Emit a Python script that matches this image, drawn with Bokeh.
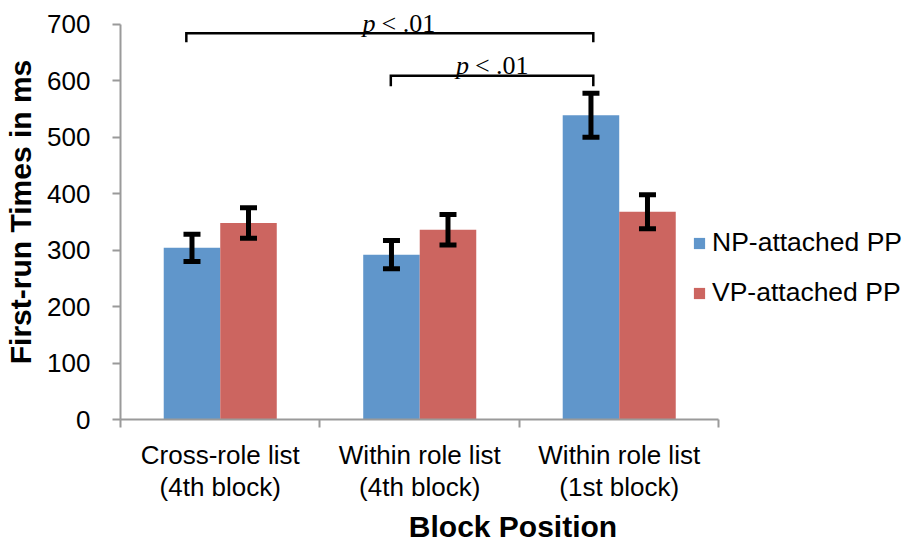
from bokeh.plotting import figure
from bokeh.models import (ColumnDataSource, Range1d, FixedTicker, Whisker, TeeHead)
from bokeh.core.properties import value
from bokeh.embed import file_html
from bokeh.resources import INLINE

# ---------------- data ----------------
categories = ["Cross-role list\n(4th block)", "Within role list\n(4th block)", "Within role list\n(1st block)"]
series_names = ["NP-attached PP", "VP-attached PP"]
np_means = [304, 292, 539]
np_errors = [24, 25, 39]
vp_means = [348, 336, 368]
vp_errors = [27, 27, 30]
y_ticks = [0, 100, 200, 300, 400, 500, 600, 700]

# significance brackets (x in category units, y in ms)
bracket_left = [0.33, 1.355]
bracket_right = [2.37, 2.37]
bracket_top = [684, 609]
bracket_foot = [668, 590]
sig_text_x = [1.394, 1.862]
sig_text_y = [702, 627]
sig_p = ["p", "p"]
sig_rest = ["< .01", "< .01"]

# ---------------- styling ----------------
BLUE = "#6096CB"
RED = "#CC6560"
AXIS_GRAY = "#9A9A9A"
SANS = "Liberation Sans"
SERIF = "Liberation Serif"
bar_w = 0.2833
half = bar_w / 2

p = figure(width=905, height=545, output_backend="svg", toolbar_location=None,
           x_range=Range1d(0, 3.935), y_range=Range1d(0, 735),
           min_border_left=120, min_border_top=4, min_border_bottom=100, min_border_right=0)
p.outline_line_color = None
p.xgrid.visible = False
p.ygrid.visible = False
p.background_fill_color = "white"

centers = [i + 0.5 for i in range(len(categories))]
np_x = [c - half for c in centers]
vp_x = [c + half for c in centers]

src_np = ColumnDataSource(dict(x=np_x, top=np_means,
                               upper=[m + e for m, e in zip(np_means, np_errors)],
                               lower=[m - e for m, e in zip(np_means, np_errors)]))
src_vp = ColumnDataSource(dict(x=vp_x, top=vp_means,
                               upper=[m + e for m, e in zip(vp_means, vp_errors)],
                               lower=[m - e for m, e in zip(vp_means, vp_errors)]))

p.vbar(x="x", top="top", width=bar_w, source=src_np, fill_color=BLUE, line_color=None,
       legend_label=series_names[0])
p.vbar(x="x", top="top", width=bar_w, source=src_vp, fill_color=RED, line_color=None,
       legend_label=series_names[1])

for src in (src_np, src_vp):
    w = Whisker(base="x", upper="upper", lower="lower", source=src, dimension="height",
                line_color="black", line_width=5, level="overlay",
                upper_head=TeeHead(size=17, line_width=5, line_color="black"),
                lower_head=TeeHead(size=17, line_width=5, line_color="black"))
    p.add_layout(w)

# brackets
bx = [[l, l, r, r] for l, r in zip(bracket_left, bracket_right)]
by = [[f, t, t, f] for t, f in zip(bracket_top, bracket_foot)]
p.multi_line(xs=bx, ys=by, line_color="black", line_width=2.5, line_join="miter")

p.text(x=sig_text_x, y=sig_text_y, text=sig_p, x_offset=-36, text_align="left",
       text_baseline="middle", text_font=value(SERIF), text_font_style="italic",
       text_font_size="26px", text_color="black")
p.text(x=sig_text_x, y=sig_text_y, text=sig_rest, x_offset=-17, text_align="left",
       text_baseline="middle", text_font=value(SERIF),
       text_font_size="26px", text_color="black")

# x axis
xa = p.xaxis[0]
xa.ticker = FixedTicker(ticks=centers, minor_ticks=[0, 1, 2, 3])
xa.major_label_overrides = {c: lab for c, lab in zip(centers, categories)}
xa.bounds = (0, 3)
xa.axis_line_color = AXIS_GRAY
xa.axis_line_width = 2
xa.major_tick_line_color = None
xa.major_tick_out = 8
xa.minor_tick_line_color = AXIS_GRAY
xa.minor_tick_line_width = 2
xa.minor_tick_out = 8
xa.minor_tick_in = 0
xa.major_label_text_font = SANS
xa.major_label_text_font_size = "26px"
xa.major_label_text_color = "black"
xa.major_label_text_line_height = 1.07
xa.major_label_standoff = 12
xa.axis_label = "Block Position"
xa.axis_label_text_font = SANS
xa.axis_label_text_font_size = "30px"
xa.axis_label_text_font_style = "bold"
xa.axis_label_text_color = "black"
xa.axis_label_text_line_height = 0.6
xa.axis_label_standoff = 5

# y axis
ya = p.yaxis[0]
ya.ticker = FixedTicker(ticks=y_ticks, minor_ticks=[])
ya.bounds = (0, 700)
ya.axis_line_color = AXIS_GRAY
ya.axis_line_width = 2
ya.major_tick_line_color = AXIS_GRAY
ya.major_tick_line_width = 2
ya.major_tick_out = 8
ya.major_tick_in = 0
ya.minor_tick_line_color = None
ya.major_label_text_font = SANS
ya.major_label_text_font_size = "26px"
ya.major_label_text_color = "black"
ya.major_label_standoff = 22
ya.axis_label = "First-run Times in ms"
ya.axis_label_text_font = SANS
ya.axis_label_text_font_size = "30px"
ya.axis_label_text_font_style = "bold"
ya.axis_label_text_color = "black"
ya.axis_label_standoff = 7

# legend
lg = p.legend[0]
lg.location = (572, 111)
lg.label_text_font = SANS
lg.label_text_font_size = "26.5px"
lg.label_text_color = "black"
lg.glyph_width = 14
lg.glyph_height = 14
lg.label_standoff = 6
lg.spacing = 19
lg.padding = 0
lg.margin = 0
lg.border_line_color = None
lg.background_fill_alpha = 0

open("out.html", "w").write(file_html(p, INLINE))
